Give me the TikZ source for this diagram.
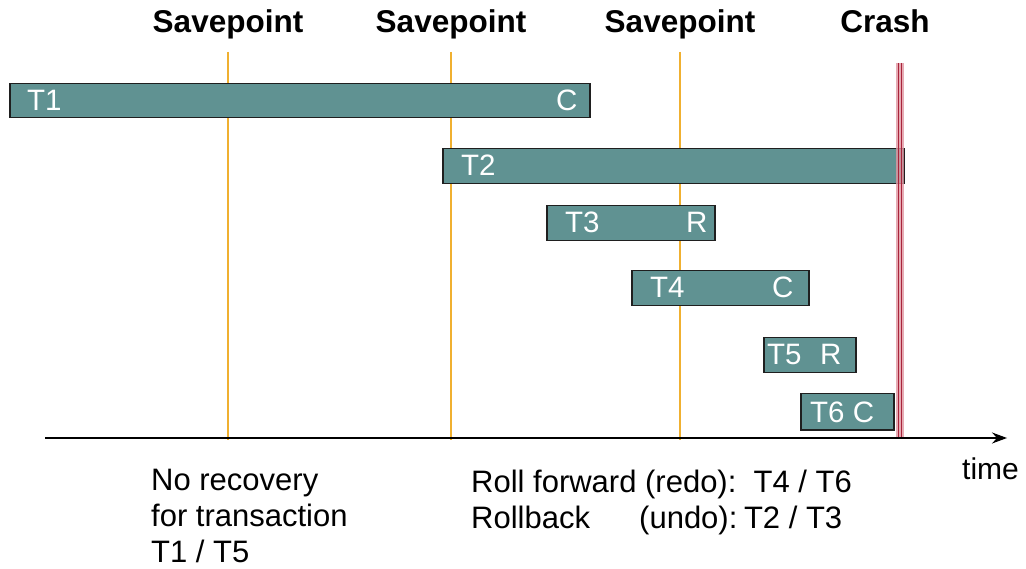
\documentclass[tikz,border=0pt]{standalone}
\usepackage{fontspec}
\setmainfont{Liberation Sans}
\usetikzlibrary{arrows.meta}
\definecolor{barfill}{RGB}{96,146,146}
\definecolor{saveline}{RGB}{240,176,48}
\definecolor{crashpink}{RGB}{224,150,162}
\definecolor{crashred}{RGB}{168,36,58}
\begin{document}
\begin{tikzpicture}[x=1pt,y=-1pt,
  bar/.style={draw=black!88, line width=1.5pt, fill=barfill, inner sep=0pt, anchor=north west},
  lbl/.style={text=white, font=\fontsize{29.5}{35}\selectfont, anchor=base west, inner sep=0pt},
  head/.style={font=\bfseries\fontsize{31.5}{36}\selectfont, anchor=base, inner sep=0pt},
  note/.style={font=\fontsize{31}{35.8}\selectfont, anchor=base west, inner sep=0pt, align=left},
  savept/.style={draw=saveline, line width=1.4pt}]
\useasboundingbox[fill=white] (0,0) rectangle (1026,569);

% savepoint markers
\foreach \i/\x in {1/228,2/451,3/680}{
  \coordinate (s\i top) at (\x,52);
  \coordinate (s\i bot) at (\x,440);
  \draw[savept] (s\i top) -- (s\i bot);
  \node[head] (sp\i) at (\x,33) {Savepoint};
}
\node[head] (crash) at (885,33) {Crash};

% transactions
\node[bar, minimum width=580pt, minimum height=34pt] (t1) at (9,83) {};
\node[bar, minimum width=461pt, minimum height=35pt] (t2) at (442,148) {};
\node[bar, minimum width=168pt, minimum height=35pt] (t3) at (546,205) {};
\node[bar, minimum width=177pt, minimum height=35pt] (t4) at (631,270) {};
\node[bar, minimum width=92pt, minimum height=35pt] (t5) at (763,337) {};
\node[bar, minimum width=93pt, minimum height=36pt] (t6) at (800,393) {};

\node[lbl] (t1a) at (27,111) {T1};
\node[lbl] (t1b) at (556,111) {C};
\node[lbl] (t2a) at (461,176) {T2};
\node[lbl] (t3a) at (565,233) {T3};
\node[lbl] (t3b) at (686,233) {R};
\node[lbl] (t4a) at (650,298) {T4};
\node[lbl] (t4b) at (772,298) {C};
\node[lbl] (t5a) at (767,365) {T5};
\node[lbl] (t5b) at (820,365) {R};
\node[lbl] (t6a) at (810,422) {T6 C};

% crash marker
\coordinate (ctop) at (900,63);
\coordinate (cbot) at (900,439);
\draw[crashpink, opacity=0.8, line width=7.5pt] (ctop) -- (cbot);
\draw[crashred, line width=1pt] ([xshift=-1.7pt]ctop) -- ([xshift=-1.7pt]cbot);
\draw[crashred, line width=1pt] ([xshift=1.7pt]ctop) -- ([xshift=1.7pt]cbot);

% time axis
\coordinate (ax0) at (45,438);
\coordinate (ax1) at (1007,438);
\draw[line width=1.3pt, -{Stealth[length=15pt,width=11pt,inset=5pt]}] (ax0) -- (ax1);
\node[note, font=\fontsize{30}{35}\selectfont] (time) at (962,479) {time};

% outcome notes
\node[note] (norec) at (151,562) {No recovery\\for transaction\\T1 / T5};
\node[note] (redo) at (471,492) {Roll forward (redo):\ \ T4 / T6};
\node[note] (undo) at (471,528) {Rollback};
\node[note] (undob) at (639,528) {(undo):\kern-2pt\ T2 / T3};
\end{tikzpicture}
\end{document}
